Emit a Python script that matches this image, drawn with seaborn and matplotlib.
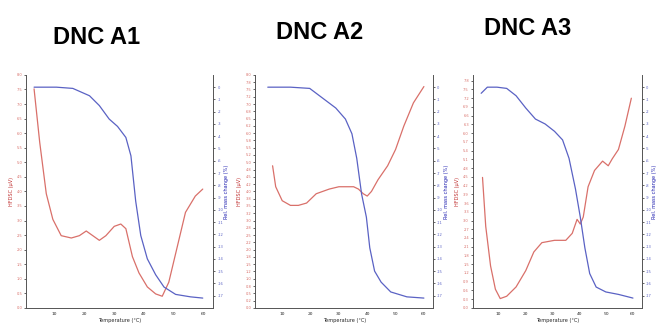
import numpy as np
import pandas as pd
import matplotlib
matplotlib.use("Agg")
import matplotlib.pyplot as plt
import seaborn as sns

# sample titles
titles = ["DNC A1", "DNC A2", "DNC A3"]

# DNC A1  (temperature in °C, heat flow, relative mass change in %)
t_red1 = [3.1, 5, 7.2, 9.4, 12.2, 15.6, 18.3, 20.6, 22.8, 25, 27.2, 30, 32.2, 33.9,
          36.1, 38.3, 41.1, 43.9, 46.1, 48.3, 51.1, 53.9, 57.2, 59.7]
hf1 = [7.52, 5.68, 3.92, 3.04, 2.48, 2.40, 2.48, 2.64, 2.48, 2.32, 2.48, 2.80, 2.88, 2.72,
       1.76, 1.20, 0.72, 0.48, 0.40, 0.88, 2.08, 3.28, 3.84, 4.08]
t_blue1 = [3.1, 10.6, 16.1, 21.7, 25, 28.3, 31.1, 33.9, 35.6, 37.2, 38.9, 41.1, 43.9,
           46.7, 50.6, 55.6, 59.7]
mass1 = [0.0, 0.0, -0.1, -0.7, -1.5, -2.6, -3.2, -4.1, -5.6, -9.3, -12.1, -14.0, -15.3,
         -16.3, -16.9, -17.1, -17.2]

# DNC A2
t_red2 = [6.6, 7.7, 10, 12.9, 15.7, 18.6, 22, 26.6, 30, 32.9, 35.2, 36.9, 38.6, 40,
          41.5, 43.8, 47.2, 50, 52.9, 56.3, 60]
hf2 = [4.88, 4.16, 3.68, 3.52, 3.52, 3.60, 3.92, 4.08, 4.16, 4.16, 4.16, 4.08, 3.92, 3.84,
       4.00, 4.40, 4.88, 5.44, 6.24, 7.04, 7.60]
t_blue2 = [4.9, 12.9, 19.7, 24.3, 28.9, 32.3, 34.6, 36.3, 38, 39.7, 40.9, 42.6, 44.9,
           48.3, 54, 60]
mass2 = [0.0, 0.0, -0.1, -0.9, -1.7, -2.6, -3.8, -5.8, -8.7, -10.6, -13.1, -15.0, -15.9,
         -16.7, -17.1, -17.2]

# DNC A3
t_red3 = [4, 5.2, 7, 8.8, 10.6, 13, 16.5, 20.1, 23.1, 26.1, 30.8, 35, 37.4, 39.2, 40.4,
          41.5, 43.3, 45.7, 48.7, 50.8, 52.3, 54.6, 57, 59.4]
hf3 = [4.48, 2.80, 1.44, 0.64, 0.32, 0.40, 0.72, 1.28, 1.92, 2.24, 2.32, 2.32, 2.56, 3.04,
       2.88, 3.12, 4.16, 4.72, 5.04, 4.88, 5.12, 5.44, 6.24, 7.20]
t_blue3 = [3.5, 5.8, 9.4, 13, 16.5, 20.1, 23.7, 27.3, 30.8, 33.8, 36.2, 38.6, 40.4, 42.1,
           43.9, 46.3, 49.9, 54.6, 60]
mass3 = [-0.5, 0.0, 0.0, -0.1, -0.7, -1.7, -2.6, -3.0, -3.6, -4.3, -5.8, -8.3, -10.6, -13.1,
         -15.2, -16.3, -16.7, -16.9, -17.2]

x_ticks = [10, 20, 30, 40, 50, 60]
red_steps = [0.5, 0.25, 0.3]

panels = [(t_red1, hf1, t_blue1, mass1), (t_red2, hf2, t_blue2, mass2), (t_red3, hf3, t_blue3, mass3)]

sns.set_style("white")
plt.rcParams['font.family'] = ['DejaVu Sans']

RED = "#d9706a"
BLUE = "#5a62c4"

fig = plt.figure(figsize=(6.58, 3.30), dpi=100)
boxes = [(0.040, 0.067, 0.284, 0.706), (0.388, 0.067, 0.270, 0.706), (0.719, 0.067, 0.256, 0.706)]
title_pos = [(0.147, 0.885), (0.485, 0.903), (0.802, 0.915)]

for i, (tr, hf, tb, ms) in enumerate(panels):
    ax = fig.add_axes(boxes[i])
    ax2 = ax.twinx()
    d_red = pd.DataFrame({"T": tr, "hf": hf})
    d_blue = pd.DataFrame({"T": tb, "m": ms})
    sns.lineplot(data=d_red, x="T", y="hf", ax=ax, color=RED, lw=0.9)
    sns.lineplot(data=d_blue, x="T", y="m", ax=ax2, color=BLUE, lw=0.9)

    ax.set_xlim(0.5, 63.2)
    ax.set_ylim(0, 8)
    ax2.set_ylim(-18, 1)
    ax.set_xticks(x_ticks)
    ax.set_xticklabels([str(v) for v in x_ticks], fontsize=3.2)
    rt = np.arange(0, 8.01, red_steps[i])
    ax.set_yticks(rt)
    ax.set_yticklabels([f"{v:.1f}" for v in rt], fontsize=2.6, color=RED)
    bt = np.arange(-17, 0.5, 1)
    ax2.set_yticks(bt)
    ax2.set_yticklabels([f"{v:.0f}" for v in bt], fontsize=2.6, color=BLUE)

    for a in (ax, ax2):
        a.tick_params(length=1.5, width=0.5, pad=1.5)
        a.spines["top"].set_visible(False)
        for s in ["left", "right", "bottom"]:
            a.spines[s].set_linewidth(0.6)
            a.spines[s].set_color("#555555")

    ax.set_xlabel("Temperature (°C)", fontsize=3.6, labelpad=1.5)
    ax.set_ylabel("HFDSC (μV)", fontsize=3.6, color="#c03030", labelpad=2)
    ax2.set_ylabel("Rel. mass change (%)", fontsize=3.6, color="#2020b0", labelpad=0.5)

    fig.text(title_pos[i][0], title_pos[i][1], titles[i], ha="center", va="center",
             fontsize=17, fontweight="bold", color="black",
             family=["Liberation Sans", "DejaVu Sans"])

fig.savefig("out.png", dpi=100)
